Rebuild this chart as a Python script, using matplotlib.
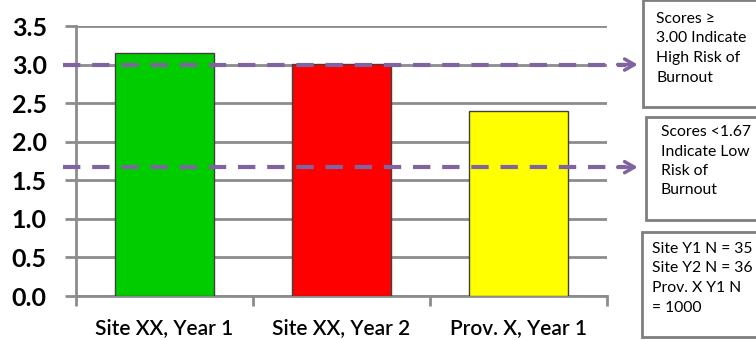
import matplotlib
matplotlib.use("Agg")
import matplotlib.pyplot as plt
from matplotlib.patches import Rectangle
import matplotlib.transforms as mtransforms

plt.rcParams['font.family'] = ['Lato', 'DejaVu Sans']
plt.rcParams['lines.scale_dashes'] = False

categories = ["Site XX, Year 1", "Site XX, Year 2", "Prov. X, Year 1"]
values = [3.15, 3.01, 2.40]
bar_colors = ["#00CC00", "#FF0000", "#FFFF00"]
thresholds = [3.0, 1.67]
yticks = [0.0, 0.5, 1.0, 1.5, 2.0, 2.5, 3.0, 3.5]
box_texts = [
    "Scores \u2265\n3.00 Indicate\nHigh Risk of\nBurnout",
    "Scores <1.67\nIndicate Low\nRisk of\nBurnout",
    "Site Y1 N = 35\nSite Y2 N = 36\nProv. X Y1 N\n= 1000",
]

W, H = 756, 340
fig = plt.figure(figsize=(W / 100, H / 100), dpi=100)
ax = fig.add_axes([76 / W, 1 - 296 / H, (607 - 76) / W, (296 - 26) / H])

grid_c = "#8C8C8C"
x = list(range(len(categories)))
ax.bar(x, values, width=0.56, color=bar_colors, edgecolor="#404040", linewidth=1.0, zorder=3)

ax.set_xlim(-0.5, len(categories) - 0.5)
ax.set_ylim(0, 3.5)
ax.set_yticks(yticks)
ax.set_yticklabels([f"{v:.1f}" for v in yticks])
ax.yaxis.grid(True, color=grid_c, linewidth=2.0, zorder=0)
ax.set_axisbelow(True)

ax.set_xticks(x)
ax.set_xticklabels(categories)
ax.set_xticks([i - 0.5 for i in range(len(categories) + 1)], minor=True)
ax.tick_params(axis='x', which='major', length=0, pad=16, labelsize=15)
ax.tick_params(axis='x', which='minor', length=7, width=2, color=grid_c, direction='out')
ax.tick_params(axis='y', length=8, width=2, color=grid_c, pad=13, labelsize=18)
for lab in ax.get_yticklabels():
    lab.set_fontweight('bold')
for lab in ax.get_xticklabels():
    lab.set_fontweight('semibold')

for s in ['top', 'right']:
    ax.spines[s].set_visible(False)
for s in ['left', 'bottom']:
    ax.spines[s].set_color(grid_c)
    ax.spines[s].set_linewidth(2.0)

purple = "#8064A2"
trans = mtransforms.blended_transform_factory(ax.transAxes, ax.transData)
for t in thresholds:
    ax.plot([-0.024, 1.035], [t, t], transform=trans, color=purple, linewidth=3,
            dashes=(12.5, 8.5), clip_on=False, zorder=5, solid_capstyle='butt')
    ax.annotate("", xy=(1.058, t), xytext=(1.02, t), xycoords=trans, textcoords=trans,
                arrowprops=dict(arrowstyle="->,head_length=0.7,head_width=0.4",
                                color=purple, lw=2.5, shrinkA=0, shrinkB=0),
                annotation_clip=False, zorder=5)

# annotation boxes (pixel coords: x0, y_top, y_bottom)
boxes = [(643, 0, 107), (646, 117, 220), (642, 232, 337)]
text_pos = [(656, 12), (661, 125), (652, 242)]
for (x0, yt, yb), (tx, ty), txt in zip(boxes, text_pos, box_texts):
    fig.patches.append(Rectangle((x0 / W, 1 - yb / H), (W + 20 - x0) / W, (yb - yt) / H,
                                 transform=fig.transFigure, facecolor="white",
                                 edgecolor="#7F7F7F", linewidth=2.0, clip_on=False))
    fig.text(tx / W, 1 - ty / H, txt, ha='left', va='top', fontsize=11.3,
             linespacing=1.5, color="black")

fig.savefig("out.png", dpi=100)
